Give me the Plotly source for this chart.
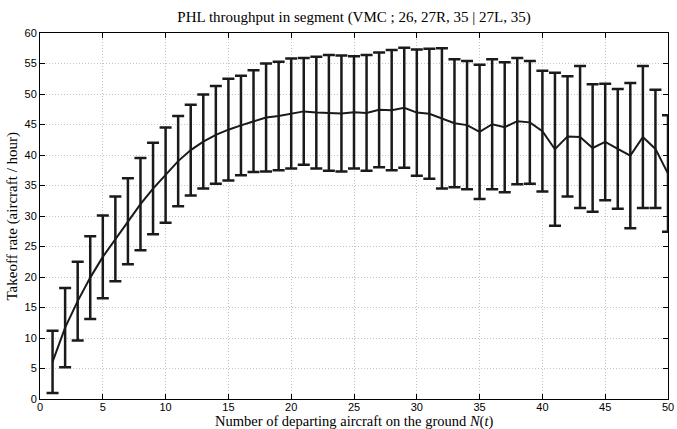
import plotly.graph_objects as go

n_aircraft = list(range(1, 51))
mean_rate = [6.1, 11.7, 16.05, 19.9, 23.3, 26.25, 29.15, 31.95, 34.5, 36.7,
             39.0, 40.8, 42.2, 43.3, 44.15, 44.85, 45.55, 46.15, 46.4, 46.8,
             47.15, 46.95, 46.9, 46.8, 47.0, 46.9, 47.4, 47.35, 47.75, 46.95,
             46.75, 46.0, 45.2, 44.9, 43.8, 45.05, 44.55, 45.55, 45.35, 43.9,
             40.95, 43.05, 42.95, 41.15, 42.15, 41.0, 39.9, 42.95, 41.0, 36.95]
err_rate = [5.1, 6.5, 6.45, 6.8, 6.8, 6.95, 7.05, 7.55, 7.5, 7.8,
            7.4, 7.45, 7.7, 8.0, 8.35, 8.15, 8.35, 8.85, 8.9, 9.0,
            8.75, 9.15, 9.5, 9.5, 9.2, 9.5, 9.4, 9.85, 9.85, 10.35,
            10.65, 11.5, 10.5, 10.5, 11.0, 10.65, 10.65, 10.35, 10.05, 9.9,
            12.55, 9.85, 11.65, 10.45, 9.55, 9.8, 11.9, 11.65, 9.7, 9.55]

title_text = "PHL throughput in segment (VMC ; 26, 27R, 35 | 27L, 35)"
x_label = "Number of departing aircraft on the ground <i>N</i>(<i>t</i>)"
y_label = "Takeoff rate (aircraft / hour)"

serif = "Liberation Serif, DejaVu Serif, serif"
sans = "Liberation Sans, Arial, sans-serif"

fig = go.Figure()
fig.add_trace(go.Scatter(
    x=n_aircraft, y=mean_rate, mode="lines",
    line=dict(color="#1a1a1a", width=2),
    error_y=dict(type="data", array=err_rate, visible=True,
                 color="#1a1a1a", thickness=2.5, width=6),
    showlegend=False, hoverinfo="skip",
))

axis_common = dict(
    showline=True, linecolor="black", linewidth=1, mirror="ticks",
    ticks="inside", ticklen=5, tickcolor="black",
    showgrid=True, gridcolor="#c4c4c4", griddash="1px,2px", gridwidth=1,
    zeroline=False, dtick=5, automargin=False,
    tickfont=dict(family=sans, size=11, color="black"),
)

fig.update_layout(
    width=677, height=429,
    paper_bgcolor="white", plot_bgcolor="white",
    margin=dict(l=40, r=9, t=33, b=30),
    title=dict(text=title_text, x=0.5, xref="paper", xanchor="center",
               y=0.96, yanchor="middle",
               font=dict(family=serif, size=15, color="black")),
    xaxis=dict(range=[0, 50], tick0=0, ticklabelstandoff=-2, **axis_common),
    yaxis=dict(range=[0, 60], tick0=0, **axis_common),
    annotations=[
        dict(text=x_label, xref="paper", yref="paper", x=0.5, y=0,
             xanchor="center", yanchor="top", yshift=-13, showarrow=False,
             borderpad=0,
             font=dict(family=serif, size=14.5, color="black")),
        dict(text=y_label, xref="paper", yref="paper", x=0, y=0.5,
             xanchor="right", yanchor="middle", xshift=-19, textangle=-90,
             showarrow=False, borderpad=0,
             font=dict(family=serif, size=15, color="black")),
    ],
)

fig.write_html("out.html", config={"displayModeBar": False, "staticPlot": True},
               post_script="document.body.style.margin='0';document.body.style.overflow='hidden';")
